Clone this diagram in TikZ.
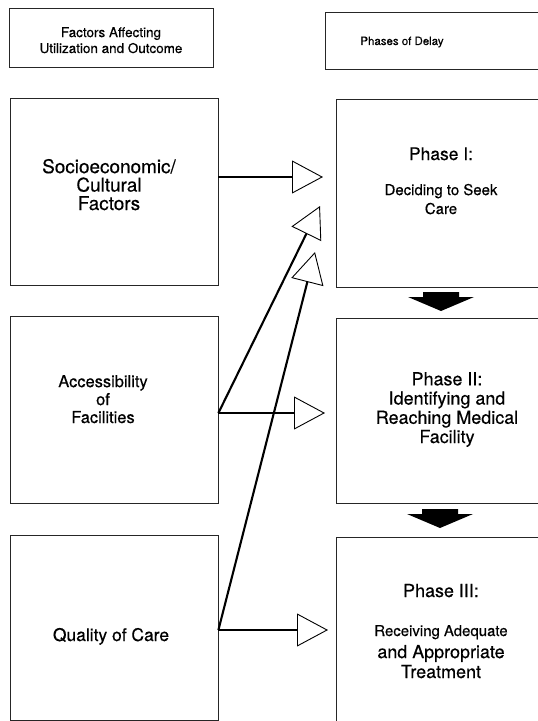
\documentclass[tikz,border=0pt]{standalone}
\usepackage{fontspec}
\setmainfont{TeX Gyre Heros}[FakeBold=0.4]
\usetikzlibrary{arrows.meta}

\begin{document}
\begin{tikzpicture}[x=1bp, y=-1bp,
    box/.style={draw=black!85, line width=0.8bp, inner sep=0pt},
    lbl/.style={anchor=base, align=center, inner sep=0pt},
    feed/.style={line width=2.1bp, -{Triangle[fill=white, length=31bp, width=33bp, line width=0.9bp]}}]
    \useasboundingbox (0,0) rectangle (538,721);

    % column heads
    \node[box, minimum width=204bp, minimum height=59bp] (hdrL) at (111,37.5) {};
    \node[box, minimum width=220bp, minimum height=57bp] (hdrR) at (435,40.5) {};
    \node[lbl, font=\fontsize{13.5}{16}\selectfont] (hdrLt) at (111,53) {Factors Affecting\\Utilization and Outcome};
    \node[lbl, font=\fontsize{11.5}{14}\selectfont] (hdrRt) at (402,45) {Phases of Delay};

    % factors (base anchor = last line)
    \node[box, minimum width=208bp, minimum height=187bp] (soc) at (114,191.5) {};
    \node[box, minimum width=208bp, minimum height=187bp] (acc) at (114,409.5) {};
    \node[box, minimum width=208bp, minimum height=185bp] (qual) at (114,627.5) {};
    \node[lbl, font=\fontsize{19}{18.5}\selectfont] (socT) at (109,210) {Socioeconomic/\\Cultural\\Factors};
    \node[lbl, font=\fontsize{16.5}{18}\selectfont] (accT) at (103,423) {Accessibility\\of\\Facilities};
    \node[lbl, font=\fontsize{17.5}{20}\selectfont] (qualT) at (111,641) {Quality of Care};

    % phases
    \node[box, minimum width=212bp, minimum height=188bp] (ph1) at (442,193) {};
    \node[box, minimum width=212bp, minimum height=185bp] (ph2) at (442,410.5) {};
    \node[box, minimum width=212bp, minimum height=193bp] (ph3) at (442,633.5) {};
    \node[lbl, font=\fontsize{17.5}{20}\selectfont] (ph1a) at (441,160) {Phase I:};
    \node[lbl, font=\fontsize{15}{19}\selectfont] (ph1b) at (441,214) {Deciding to Seek\\Care};
    \node[lbl, font=\fontsize{18}{19.3}\selectfont] (ph2T) at (447,443) {Phase II:\\Identifying and\\Reaching Medical\\Facility};
    \node[lbl, font=\fontsize{18}{20}\selectfont] (ph3a) at (441,597) {Phase III:};
    \node[lbl, font=\fontsize{15}{19}\selectfont] (ph3b) at (441,636) {Receiving Adequate};
    \node[lbl, font=\fontsize{18}{20}\selectfont] (ph3c) at (441,678) {and Appropriate\\Treatment};

    % arrow tips
    \coordinate (t1) at (323,177);
    \coordinate (t2) at (325,413);
    \coordinate (t3) at (328,630);
    \coordinate (t4) at (320,206);
    \coordinate (t5) at (315,252);

    \draw[feed] (soc.east |- t1) -- (t1);
    \draw[feed] (acc.east |- t2) -- (t2);
    \draw[feed] (acc.east |- t2) -- (t4);
    \draw[feed] (qual.east |- t3) -- (t3);
    \draw[feed] (qual.east |- t3) -- (t5);

    % phase to phase
    \foreach \xc/\yt in {441/292, 440/509}
        \fill (\xc-18,\yt) -- (\xc+18,\yt) -- (\xc+18,\yt+5) -- (\xc+33,\yt+5)
            -- (\xc,\yt+19) -- (\xc-33,\yt+5) -- (\xc-18,\yt+5) -- cycle;
\end{tikzpicture}
\end{document}
